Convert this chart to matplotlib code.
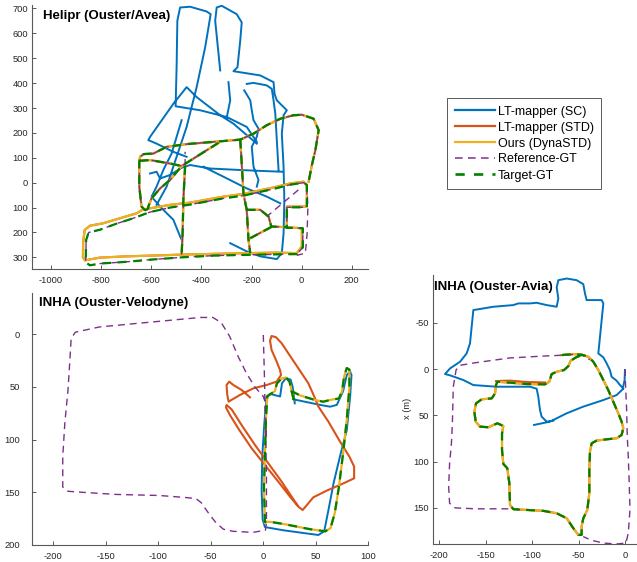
import numpy as np
import matplotlib
matplotlib.use('Agg')
import matplotlib.pyplot as plt
from matplotlib.ticker import FuncFormatter
from matplotlib.lines import Line2D

plt.rcParams['font.family'] = ['Liberation Sans', 'DejaVu Sans']
plt.rcParams['axes.unicode_minus'] = False

W, H = 637, 562
C_SC = '#0072BD'
C_STD = '#D95319'
C_OURS = '#EDB120'
C_REF = '#7E2F8E'
C_TGT = '#008000'
AXC = '#262626'
SPC = '#595959'

labels = ['LT-mapper (SC)', 'LT-mapper (STD)', 'Ours (DynaSTD)', 'Reference-GT', 'Target-GT']

# ---------------- Helipr (Ouster/Avea) ----------------
helipr_sc = [
    [(-579,-89),(-539,-16),(-499,104),(-459,224),(-419,384),(-385,544),(-363,677),(-379,688),
     (-445,707),(-485,704),(-496,651),(-499,464),(-503,307),(-405,291),(-299,264),(-219,224),(-179,164)],
    [(-179,157),(-272,237),(-325,271),(-419,344),(-459,384),(-512,317),(-605,184),(-612,171),
     (-579,157),(-512,124),(-459,104)],
    [(-479,251),(-519,117),(-552,51),(-579,-16),(-599,-56),(-565,-96),(-512,-149),(-485,-216),(-479,-229)],
    [(-605,37),(-579,44),(-565,17),(-525,31),(-479,60),(-445,71),(-365,57),(-245,51),(-179,48),(-79,44)],
    [(-392,64),(-312,24),(-219,-23),(-139,-56),(-85,-83)],
    [(-325,451),(-345,651),(-339,704),(-319,711),(-259,677),(-239,644),(-245,571),(-256,464),(-272,448),
     (-165,431),(-112,404),(-108,357),(-99,331),(-59,291),(-72,271),(-79,197),(-72,64),(-69,-69),
     (-72,-203),(-79,-283),(-99,-307),(-165,-296),(-219,-276),(-285,-243)],
    [(-292,404),(-285,331),(-299,261)],
    [(-219,397),(-192,401),(-139,391),(-119,377),(-112,331),(-105,277),(-99,171),(-92,51)],
    [(-229,371),(-205,331),(-199,291),(-192,251),(-172,217),(-179,184),(-199,144),(-192,64),(-172,11),(-179,-16)],
]

helipr_net = [
    [(-612,-105),(-625,-110),(-639,-96),(-648,-16),(-648,80),(-645,104),(-630,115),(-592,117),(-539,144),
     (-459,155),(-352,164),(-245,173),(-192,197),(-139,231),(-85,257),(-32,271),(1,273),(48,257),
     (68,211),(55,131),(41,71),(28,4)],
    [(-245,173),(-238,60),(-232,-45),(-219,-109),(-212,-229),(-205,-283)],
    [(-219,-109),(-165,-109),(-132,-136),(-121,-176),(-59,-179)],
    [(-121,-178),(-205,-223)],
    [(-332,160),(-479,67),(-525,11),(-565,-23),(-599,-63),(-612,-96),(-612,-105)],
    [(-646,88),(-605,91),(-565,84),(-525,77),(-479,67)],
    [(-465,67),(-472,-69),(-475,-203),(-479,-289)],
]

helipr_ours_loop = [(-632,-107),(-659,-123),(-725,-143),(-792,-163),(-845,-173),(-866,-190),(-872,-240),
    (-873,-300),(-865,-312),(-805,-301),(-700,-296),(-600,-293),(-479,-289),(-350,-286),(-219,-283),
    (-100,-281),(-19,-283),(1,-256),(1,-183),(-59,-179),(-59,-96),(21,-96),(21,-9),(8,4),(-45,-3),
    (-112,-19),(-232,-45),(-312,-56),(-445,-80),(-525,-89),(-605,-103),(-632,-107)]

helipr_gt_loop = [(-619,-123),(-672,-143),(-740,-165),(-805,-189),(-850,-200),(-860,-230),(-862,-320),
    (-845,-332),(-805,-325),(-700,-318),(-600,-309),(-479,-300),(-350,-293),(-219,-290),(-100,-288),
    (-19,-287),(5,-260),(5,-183),(-59,-181),(-59,-99),(21,-99),(21,-9),(8,0),(-45,-8),(-112,-25),
    (-232,-52),(-312,-63),(-445,-88),(-525,-100),(-605,-118),(-619,-123)]

helipr_ref_extra = [
    [(-13,-29),(-139,-136)],
    [(21,-9),(25,-96),(22,-203),(15,-283),(-19,-292)],
    [(-465,67),(-465,124)],
]

# ---------------- INHA (Ouster-Velodyne) ----------------
velo_ref = [(0,0.6),(1,37),(2,84),(3,132),(3,179),(2,186),(-10,188),(-29,187),(-38,185),(-45,179),
    (-52,170),(-59,160),(-64,156),(-73,155),(-99,153),(-140,152),(-172,150),(-186,149),(-191,145),
    (-191,116),(-189,84),(-186,53),(-184,21),(-183,4),(-179,-2),(-156,-7),(-124,-10),(-92,-13),
    (-60,-16),(-48,-16),(-40,-11),(-32,2),(-24,21),(-16,37),(-8,50),(0,59),(2,65),(3,100)]

velo_ours = [(1.6,179),(0.6,145),(1.6,113),(2.5,81),(3.8,59),(6.4,57),(11,54),(13,46.5),(17.5,42),
    (21.6,41),(25,45),(27,54),(29,62),(27,54),(35,58),(48,62),(57,64),(65,62),(72,61),(75,54),(77,40),
    (79.5,32),(82,33.5),(82,50),(79.5,81),(76,113),(72,145),(68,170),(64,184),(59,187),(44.5,185),
    (19,180),(6.4,178),(1.6,178)]

velo_sc = [(30,65.5),(28,50),(26,43),(21.6,41.5),(17.8,46.5),(16,59),(6.4,56.6),(3.2,59),(1,84.5),
    (-1,116),(-1.6,148),(-0.6,176),(1.6,183),(19,186),(41,189),(52.5,190.5),(58,187),(62,167),(67,141),
    (73,116),(79.5,91),(82.7,59),(84,38.6),(82.7,35.4),(79.5,38.6),(76,54),(70,67),(63.6,68.7),
    (54,67),(44.5,65),(30,62)]

velo_std = [(-12.7,59.8),(-20.7,52.8),(-28.6,48.1),(-32.4,44.9),(-35,48.1),(-34.3,57.6),(-33,63.9),
    (-22.3,57.6),(-9.5,51.3),(3.2,48.1),(12.7,44.9),(16.9,38.6),(15.9,33.9),(12.1,24.4),(7.9,14.9),
    (6.4,6),(7.9,1.6),(12.1,2.8),(17.5,8.5),(23.8,18),(33.4,32.3),(42.9,46.5),(49.3,60.8),(52.5,68.7),
    (62,82.9),(73.1,101.9),(82,116.1),(86.5,125.6),(86.5,136.7),(76.3,141.5),(60.4,148.4),(47.7,154.7),
    (37.5,166.8),(33.4,163.6),(25.4,154.1),(14.3,139.9),(1.6,124.1),(-11.1,108.2),(-22.9,90.8),
    (-31.8,76.6),(-35.6,69.3),(-35,67.1),(-30.2,71.2),(-20.7,86.1),(-7.9,105.1),(4.8,122.5),
    (17.5,139.9),(30.2,158.9),(32.4,162)]

# ---------------- INHA (Ouster-Avia) ----------------
avia_ref = [
    [(0,0),(0.7,19),(1.8,44),(2.5,73),(3.6,95),(4.7,127),(5.4,152),(3.6,177),(1.1,188),(-9,189),
     (-23,188),(-36,185),(-45,181)],
    [(-113,152),(-124,151),(-160,151),(-183,150),(-189,145),(-190,127),(-189,102),(-187,80),(-186,59),
     (-185,19),(-182,1),(-178,-4),(-160,-7),(-124,-12),(-88,-14),(-66,-15),(-52,-16),(-43,-14),(-38,-10)],
]

avia_ours = [(-68.2,-15.1),(-55.7,-16.2),(-46.7,-15.5),(-39.5,-13.3),(-34.1,-7.9),(-28.7,1.1),(-23.3,11.9),
    (-18,22.7),(-12.6,35.3),(-7.2,47.8),(-3.6,56.8),(-1.8,64),(-3.6,71.2),(-9,74.8),(-19.7,75.9),
    (-30.5,77.3),(-35.9,80.2),(-37.7,89.2),(-38.4,109),(-38.4,134.2),(-40.6,152.2),(-44.9,161.2),
    (-46.7,170.1),(-46.7,179.1),(-50.3,179.1),(-55.7,171.9),(-62.8,161.2),(-73.6,155.8),(-88,153.2),
    (-105.9,152.2),(-120.3,151.4),(-123.9,146.8),(-124.6,123.4),(-126.8,107.2),(-131.1,102.5),
    (-132.5,87.4),(-132.5,69.4),(-131.1,61.5),(-137.5,58.6),(-147.2,62.9),(-156.2,62.2),(-160.9,56.8),
    (-162.3,46),(-160.5,37.1),(-154.4,32.7),(-143.6,31.7),(-140,26.3),(-139,17.3),(-137.5,13.7),
    (-123.9,14.7),(-105.9,16.2),(-86.2,16.5),(-81.5,13.7),(-79,5.4),(-73.6,2.9),(-65.7,1.1),(-61,-3.2),
    (-58.5,-9),(-52.8,-12.6),(-46.7,-15.1)]

avia_std_extra = [(-139,13),(-123.9,12.5),(-105.9,14),(-86.2,14.5)]

avia_sc = [
    [(-1.8,20.9),(-5.4,17.3),(-9,12.6),(-14.4,8.3),(-16.2,1.1),(-19.7,-6.1),(-23.3,-12.6),(-28.7,-16.9),
     (-26.9,-34.9),(-25.1,-52.9),(-23.3,-70.9),(-25.1,-74.5),(-41.3,-74.5),(-43.1,-81.7),(-44.9,-91.7),
     (-52.1,-96),(-62.8,-97.8),(-71.8,-96),(-73.6,-88.1),(-71.8,-76.3),(-73.6,-67.3),(-84.4,-69.1),
     (-95.2,-71.6),(-102.3,-70.9),(-114.9,-70.9),(-120.3,-69.1),(-141.8,-67.3),(-163.4,-63.7),
     (-165.2,-45.7),(-167,-27.7),(-170.6,-16.9),(-177.7,-7.9),(-188.5,-0.7),(-193.9,5.4),(-188.5,6.8),
     (-174.1,11.9),(-163.4,17.3),(-138.2,19.1),(-102.3,19.1),(-95.2,21.2),(-93.4,29.9),(-91.6,44.2),
     (-89.8,51.4),(-84.4,56.8),(-77.2,55.8)],
    [(-98,60.4),(-80.8,56.8),(-62.8,47.8),(-44.9,40.6),(-23.3,33.5),(-9,28.1),(-2.5,21.9),(-0.4,11.9),(0,1.1)],
]


def join(segs):
    xs, ys = [], []
    for s in segs:
        a = np.array(s, dtype=float)
        xs += list(a[:, 0]) + [np.nan]
        ys += list(a[:, 1]) + [np.nan]
    return np.array(xs), np.array(ys)


def style(ax, xpad, ypad):
    for s in ['top', 'right']:
        ax.spines[s].set_visible(False)
    for s in ['left', 'bottom']:
        ax.spines[s].set_color(SPC)
        ax.spines[s].set_linewidth(0.8)
    ax.tick_params(direction='in', length=3, width=0.7, color=SPC, labelsize=6.7,
                   labelcolor=AXC)
    ax.tick_params(axis='x', pad=xpad)
    ax.tick_params(axis='y', pad=ypad)


def draw(ax, sc, std, ours, ref, tgt):
    ax.plot(*join(sc), color=C_SC, lw=1.4, solid_joinstyle='round')
    ax.plot(*join(std), color=C_STD, lw=1.5, solid_joinstyle='round')
    ax.plot(*join(ours), color=C_OURS, lw=1.6, solid_joinstyle='round')
    ax.plot(*join(ref), color=C_REF, lw=1.0, dashes=(5, 3.5))
    ax.plot(*join(tgt), color=C_TGT, lw=1.6, dashes=(4, 3))


fig = plt.figure(figsize=(W/100, H/100), dpi=100)

def px_axes(l, t, r, b):
    return fig.add_axes([l/W, 1-b/H, (r-l)/W, (b-t)/H])

# top-left
ax1 = px_axes(32.3, 5, 368, 269.3)
draw(ax1, helipr_sc, [helipr_ours_loop] + helipr_net, [helipr_ours_loop] + helipr_net,
     [helipr_gt_loop] + helipr_net + helipr_ref_extra, [helipr_gt_loop] + helipr_net)
ax1.set_xlim(-1075, 265)
ax1.set_ylim(-348, 714)
ax1.set_xticks(np.arange(-1000, 201, 200))
ax1.set_yticks(np.arange(-300, 701, 100))
ax1.yaxis.set_major_formatter(FuncFormatter(lambda v, p: '%d' % abs(v)))
style(ax1, 5, 3)

# bottom-left
ax2 = px_axes(32.3, 292.7, 368.3, 545)
draw(ax2, [velo_sc], [velo_std], [velo_ours], [velo_ref], [velo_ours])
ax2.set_xlim(-220, 100)
ax2.set_ylim(200, -39.5)
ax2.set_xticks(np.arange(-200, 101, 50))
ax2.set_yticks(np.arange(0, 201, 50))
style(ax2, 5, 9)

# bottom-right
ax3 = px_axes(432.7, 275, 636, 544)
draw(ax3, avia_sc, [avia_ours, avia_std_extra], [avia_ours], avia_ref, [avia_ours])
ax3.set_xlim(-207.2, 11.9)
ax3.set_ylim(189, -101.6)
ax3.set_xticks(np.arange(-200, 1, 50))
ax3.set_yticks(np.arange(-50, 151, 50))
style(ax3, 5, 2.5)
fig.text(407/W, 1-408/H, 'x (m)', rotation=90, ha='center', va='center', fontsize=6.7, color=AXC)

# titles
fig.text(43/W, 1-16/H, 'Helipr (Ouster/Avea)', fontsize=9.5, fontweight='bold', va='center', color='black')
fig.text(39/W, 1-303/H, 'INHA (Ouster-Velodyne)', fontsize=9.5, fontweight='bold', va='center', color='black')
fig.text(434/W, 1-287/H, 'INHA (Ouster-Avia)', fontsize=9.5, fontweight='bold', va='center', color='black')

# legend
handles = [Line2D([], [], color=C_SC, lw=1.6),
           Line2D([], [], color=C_STD, lw=1.6),
           Line2D([], [], color=C_OURS, lw=1.6),
           Line2D([], [], color=C_REF, lw=1.1, dashes=(5, 3.5)),
           Line2D([], [], color=C_TGT, lw=1.9, dashes=(3.5, 3.5))]
leg = fig.legend(handles, labels, loc='upper left', bbox_to_anchor=(447/W, 1-98/H),
                 borderaxespad=0, fontsize=9, frameon=True, fancybox=False,
                 handlelength=3.2, handletextpad=0.25, labelspacing=0.32,
                 borderpad=0.6, edgecolor=SPC, framealpha=1)
leg.get_frame().set_linewidth(0.7)

fig.savefig('out.png', dpi=100)
